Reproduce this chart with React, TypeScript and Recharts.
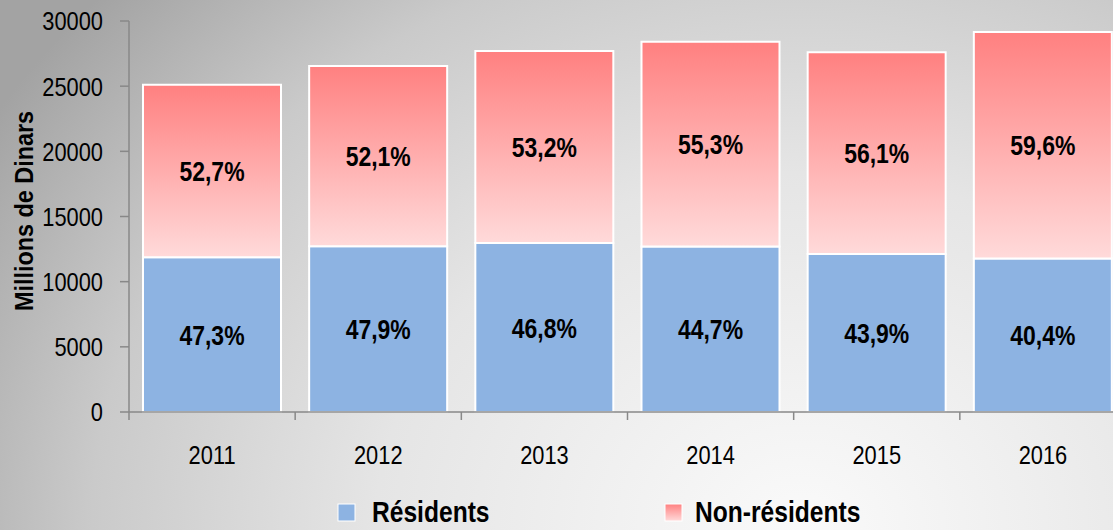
import React from "react";
import { BarChart, Bar, XAxis, YAxis, Legend, LabelList } from "recharts";

// valeurs (millions de dinars)
const years = ["2011", "2012", "2013", "2014", "2015", "2016"];
const residents = [11870, 12720, 12960, 12700, 12120, 11780];
const nonResidents = [13230, 13830, 14740, 15700, 15480, 17370];
const residentsPct = ["47,3%", "47,9%", "46,8%", "44,7%", "43,9%", "40,4%"];
const nonResidentsPct = ["52,7%", "52,1%", "53,2%", "55,3%", "56,1%", "59,6%"];
const yTicks = [0, 5000, 10000, 15000, 20000, 25000, 30000];

const data = years.map((y, i) => ({
    year: y,
    residents: residents[i],
    nonResidents: nonResidents[i],
    resPct: residentsPct[i],
    nonResPct: nonResidentsPct[i],
}));

// pas de police "narrow" installée : on compresse Liberation Sans horizontalement
const FONT = "'Liberation Sans', Arial, sans-serif";
const NARROW = 0.82;
const CHART_W = 1126;
const PLOT_LEFT = 129;
const BAND = (CHART_W - PLOT_LEFT) / years.length;

function XTick(props: any) {
    const { x, y, payload } = props;
    const bx = x - BAND / 2;
    return (
        <g>
            <line x1={bx} y1={y - 8} x2={bx} y2={y} stroke="#888" strokeWidth={1.5} />
            <text
                transform={`translate(${x},${y + 44}) scale(0.84,1)`}
                textAnchor="middle"
                fontSize={26}
                fill="#000"
                fontFamily={FONT}
            >
                {payload.value}
            </text>
        </g>
    );
}

function YTick(props: any) {
    const { x, y, payload } = props;
    return (
        <text
            transform={`translate(${x},${y}) scale(0.84,1)`}
            textAnchor="end"
            dy="0.36em"
            fontSize={26}
            fill="#000"
            fontFamily={FONT}
        >
            {payload.value}
        </text>
    );
}

function YLabel() {
    return (
        <text
            transform="translate(24,211) rotate(-90) scale(0.9,1)"
            textAnchor="middle"
            dy="0.36em"
            fontSize={26}
            fontWeight="bold"
            fill="#000"
            fontFamily={FONT}
        >
            Millions de Dinars
        </text>
    );
}

function PctLabel(props: any) {
    const { x, y, width, height, value } = props;
    const cx = x + width / 2;
    const cy = y + height / 2;
    return (
        <text
            transform={`translate(${cx},${cy}) scale(${NARROW},1)`}
            textAnchor="middle"
            dy="0.36em"
            fontSize={28}
            fontWeight="bold"
            fill="#000"
            fontFamily={FONT}
        >
            {value}
        </text>
    );
}

function LegendContent() {
    const items = [
        { label: "Résidents", fill: "#8db3e2", x: 338, tx: 372 },
        { label: "Non-résidents", fill: "url(#redGradLegend)", x: 665, tx: 695 },
    ];
    return (
        <svg width={1113} height={78} style={{ display: "block" }}>
            <defs>
                <linearGradient id="redGradLegend" x1="0" y1="0" x2="0" y2="1">
                    <stop offset="0%" stopColor="#ff8080" />
                    <stop offset="100%" stopColor="#ffdada" />
                </linearGradient>
            </defs>
            {items.map((it) => (
                <g key={it.label}>
                    <rect x={it.x} y={52} width={17} height={17} fill={it.fill} stroke="#fff" strokeWidth={1} />
                    <text
                        transform={`translate(${it.tx},70) scale(${NARROW},1)`}
                        fontSize={30}
                        fontWeight="bold"
                        fontFamily={FONT}
                        fill="#000"
                    >
                        {it.label}
                    </text>
                </g>
            ))}
        </svg>
    );
}

export default function App() {
    return (
        <div
            style={{
                width: 1113,
                height: 530,
                overflow: "hidden",
                position: "relative",
                background:
                    "radial-gradient(ellipse 85% 150% at 72% 100%, #fafafa 0%, #e5e5e5 45%, #cacaca 75%, #a3a3a3 100%)",
            }}
        >
            <style>{`body{margin:0}`}</style>
            <BarChart
                width={CHART_W}
                height={530}
                data={data}
                margin={{ top: 21, right: 0, left: 0, bottom: 0 }}
                barSize={138}
            >
                <defs>
                    <linearGradient id="redGrad" x1="0" y1="0" x2="0" y2="1">
                        <stop offset="0%" stopColor="#ff8080" />
                        <stop offset="100%" stopColor="#ffdada" />
                    </linearGradient>
                </defs>
                <YAxis
                    width={PLOT_LEFT}
                    domain={[0, 30000]}
                    ticks={yTicks}
                    interval={0}
                    tickSize={9}
                    tickMargin={17}
                    axisLine={{ stroke: "#888", strokeWidth: 1.5 }}
                    tickLine={{ stroke: "#888", strokeWidth: 1.5 }}
                    tick={<YTick />}
                    label={<YLabel />}
                />
                <XAxis
                    dataKey="year"
                    height={40}
                    axisLine={{ stroke: "#888", strokeWidth: 1.5 }}
                    tickLine={false}
                    tick={<XTick />}
                    interval={0}
                />
                <Legend verticalAlign="bottom" height={78} content={<LegendContent />} />
                <Bar
                    dataKey="residents"
                    stackId="a"
                    fill="#8db3e2"
                    stroke="#fff"
                    strokeWidth={2}
                    isAnimationActive={false}
                >
                    <LabelList dataKey="resPct" content={<PctLabel />} />
                </Bar>
                <Bar
                    dataKey="nonResidents"
                    stackId="a"
                    fill="url(#redGrad)"
                    stroke="#fff"
                    strokeWidth={2}
                    isAnimationActive={false}
                >
                    <LabelList dataKey="nonResPct" content={<PctLabel />} />
                </Bar>
            </BarChart>
        </div>
    );
}
